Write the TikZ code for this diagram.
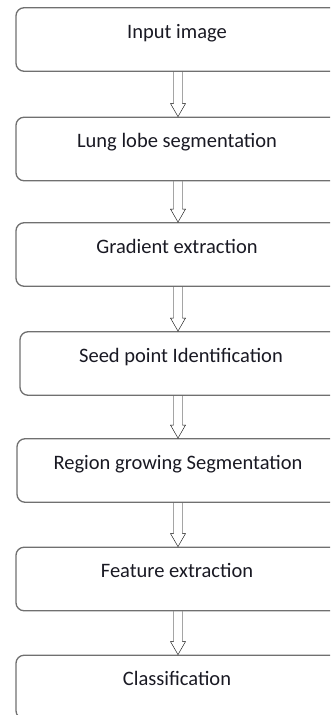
\documentclass[tikz,border=0pt]{standalone}
\usepackage{fontspec}
\setmainfont{Carlito}
\usetikzlibrary{calc}
\definecolor{boxgray}{RGB}{112,112,112}
\definecolor{arrowgray}{RGB}{70,70,70}
\definecolor{textdark}{RGB}{25,25,35}
\tikzset{
  stagebox/.style={draw=boxgray,line width=1.3pt,rounded corners=8pt,
    minimum width=322pt,inner xsep=0pt,inner ysep=0pt,
    text height=30.5pt,text depth=33pt,text=textdark,
    font=\fontsize{20.5}{24}\selectfont},
  hollowarrow/.style={draw=arrowgray,line width=1pt,fill=white,
    to path={let \p1=(\tikztostart), \p2=(\tikztotarget) in
      (\x1-4.5pt,\y1) -- (\x1-4.5pt,\y2+13pt) -- (\x1-7.5pt,\y2+13pt)
      -- (\x1,\y2) -- (\x1+7.5pt,\y2+13pt) -- (\x1+4.5pt,\y2+13pt)
      -- (\x1+4.5pt,\y1)}}
}
\begin{document}
\begin{tikzpicture}[x=1pt,y=-1pt]
      \useasboundingbox (0,0) rectangle (330,715);
      \clip (0,0) rectangle (330,715);
      \coordinate (axis) at (178,0);
      \node[stagebox] (input) at (177,39.5) {Input image};
      \node[stagebox] (lobe) at (177,149) {Lung lobe segmentation};
      \node[stagebox] (gradient) at (177,254.5) {Gradient extraction};
      \node[stagebox] (seed) at (181,363.5) {Seed point Identification};
      \node[stagebox] (growing) at (178,470.5) {Region growing Segmentation};
      \node[stagebox] (feature) at (177,579) {Feature extraction};
      \node[stagebox] (classify) at (177,687) {Classification};
      % hollow arrows between the stages
      \draw (input.south -| axis) to[hollowarrow] (lobe.north -| axis);
      \draw (lobe.south -| axis) to[hollowarrow] (gradient.north -| axis);
      \draw (gradient.south -| axis) to[hollowarrow] (seed.north -| axis);
      \draw (seed.south -| axis) to[hollowarrow] (growing.north -| axis);
      \draw (growing.south -| axis) to[hollowarrow] (feature.north -| axis);
      \draw (feature.south -| axis) to[hollowarrow] (classify.north -| axis);
    \end{tikzpicture}
\end{document}
